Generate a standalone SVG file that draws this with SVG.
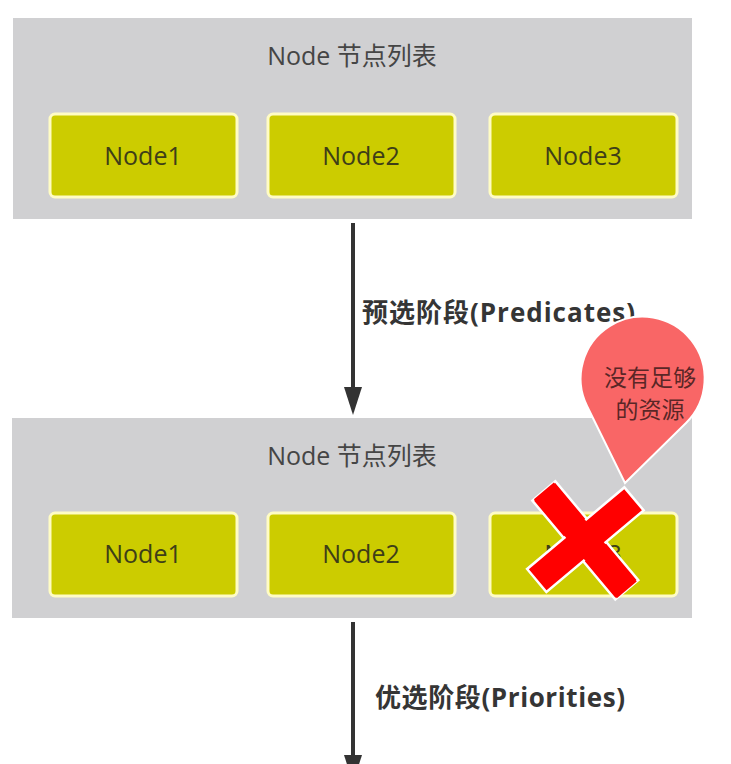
<svg xmlns="http://www.w3.org/2000/svg" width="731" height="764" viewBox="0 0 731 764">
<defs>
<style>
.panel{fill:#d0d0d2;}
.node rect{fill:#cccc00;stroke:#fffcc4;stroke-width:3;}
.ntxt{font-family:"Open Sans","DejaVu Sans",sans-serif;font-size:25px;fill:#3e3e18;text-anchor:middle;}
.title{font-family:"Open Sans","Noto Sans CJK SC",sans-serif;font-size:25px;fill:#454545;text-anchor:middle;}
.lbl{font-family:"Open Sans","Noto Sans CJK SC",sans-serif;font-size:26px;font-weight:bold;fill:#353535;}
.conn line{stroke:#333;stroke-width:4;}
.conn polygon{fill:#333;}
.btxt{font-family:"Noto Sans CJK SC",sans-serif;font-size:23px;fill:#5a2626;text-anchor:middle;}
</style>
</defs>
<rect width="731" height="764" fill="#ffffff"/>

<g id="panel1">
<rect class="panel" x="13" y="18" width="679" height="201"/>
<text class="title" x="352" y="65">Node 节点列表</text>
</g>
<g id="p1-node1" class="node"><rect x="50" y="114" width="187" height="83" rx="5"/><text class="ntxt" x="143" y="165">Node1</text></g>
<g id="p1-node2" class="node"><rect x="268" y="114" width="187" height="83" rx="5"/><text class="ntxt" x="361" y="165">Node2</text></g>
<g id="p1-node3" class="node"><rect x="490" y="114" width="187" height="83" rx="5"/><text class="ntxt" x="583" y="165">Node3</text></g>

<g id="panel2">
<rect class="panel" x="12" y="418" width="680" height="200"/>
<text class="title" x="352" y="465">Node 节点列表</text>
</g>
<g id="p2-node1" class="node"><rect x="50" y="513" width="187" height="83" rx="5"/><text class="ntxt" x="143" y="563">Node1</text></g>
<g id="p2-node2" class="node"><rect x="268" y="513" width="187" height="83" rx="5"/><text class="ntxt" x="361" y="563">Node2</text></g>
<g id="p2-node3" class="node"><rect x="490" y="513" width="187" height="83" rx="5"/><text class="ntxt" x="583" y="563">Node3</text></g>

<g id="connectors" class="conn">
<line x1="353" y1="223" x2="353" y2="392"/>
<polygon points="344,387 362,387 353,415"/>
<text class="lbl" x="362" y="322" textLength="273">预选阶段(Predicates)</text>
<line x1="353" y1="622" x2="353" y2="760"/>
<polygon points="344,755 362,755 353,783"/>
<text class="lbl" x="375" y="707" textLength="250">优选阶段(Priorities)</text>
</g>

<g id="balloon">
<path d="M625 483 L686 423 A62 62 0 1 0 587 406 Z" fill="#f96666" stroke="#ffffff" stroke-width="2"/>
<text class="btxt" x="650" y="386">没有足够</text>
<text class="btxt" x="650" y="418">的资源</text>
</g>

<g id="cross" fill="#ff0000" stroke="#ffffff" stroke-width="2.5">
<rect x="521" y="525" width="129" height="30" transform="rotate(50 585 540)"/>
<rect x="522" y="525" width="127" height="30" transform="rotate(-40 585 540)"/>
<rect x="521" y="527" width="129" height="26" transform="rotate(50 585 540)" stroke="none"/>
</g>
</svg>
